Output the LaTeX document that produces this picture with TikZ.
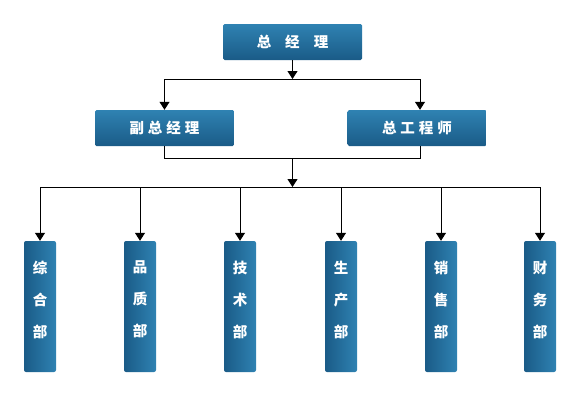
\documentclass[tikz,border=0pt]{standalone}
\usepackage{fontspec}
\newfontfamily\cjk{Noto Sans CJK SC}
\usetikzlibrary{arrows.meta}
\definecolor{boxlight}{HTML}{2F82B2}
\definecolor{boxdark}{HTML}{1A5B87}
\newcommand{\gs}{\hspace{4pt}}
\tikzset{
  hbox/.style={minimum width=139pt, minimum height=36pt, inner sep=0pt, rounded corners=1.5pt,
    top color=boxlight, bottom color=boxdark, draw=none, text=white, font=\cjk\bfseries\fontsize{14.5}{16}\selectfont},
  vbox/.style={minimum width=32pt, minimum height=131pt, inner sep=0pt, rounded corners=2pt,
    left color=boxdark, right color=boxlight, draw=none},
  vtext/.style={text=white, font=\cjk\bfseries\fontsize{14.5}{32}\selectfont, align=center, inner sep=0pt},
  conn/.style={draw=black, line width=1pt},
  arr/.style={conn, -{Triangle[width=10pt,length=8pt]}}
}
\begin{document}
\begin{tikzpicture}[x=1pt,y=-1pt]
\useasboundingbox (0,0) rectangle (577,415);
\node[hbox] (gm) at (292.5,42) {总\hspace{14pt}经\hspace{14pt}理};
\node[hbox] (vgm) at (164.5,128) {副\gs 总\gs 经\gs 理};
\node[hbox] (ce) at (417,128) {总\gs 工\gs 程\gs 师};
\coordinate (j1) at (292.5,79);
\coordinate (j1l) at (164.5,79);
\coordinate (j1r) at (420,79);
\draw[arr] (gm.south) -- (j1);
\draw[conn] (j1l) -- (j1r);
\draw[arr] (j1l) -- (j1l |- vgm.north);
\draw[arr] (j1r) -- (j1r |- ce.north);
\coordinate (j2l) at (164.5,158);
\coordinate (j2r) at (420,158);
\coordinate (j2) at (292.5,158);
\coordinate (j3) at (292.5,187);
\draw[conn] (vgm.south) -- (j2l) -- (j2r) -- (j2r |- ce.south);
\draw[arr] (j2) -- (j3);
\foreach \i/\x/\t in {a/40/{综\\合\\部}, b/140/{品\\质\\部}, c/240/{技\\术\\部}, d/341/{生\\产\\部}, e/441/{销\\售\\部}, f/540/{财\\务\\部}}{
  \node[vbox] (\i) at (\x,306.5) {};
  \node[vtext] (\i t) at ([yshift=7pt]\i.center) {\t};
}
\coordinate (hl) at (40,187);
\coordinate (hr) at (540,187);
\draw[conn] (hl) -- (hr);
\foreach \i in {a,b,c,d,e,f}{
  \draw[arr] (\i.north |- hl) -- (\i.north);
}
\end{tikzpicture}
\end{document}
